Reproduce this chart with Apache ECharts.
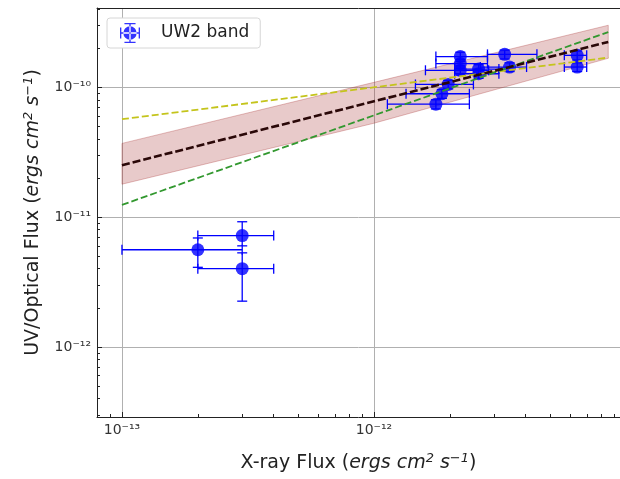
<!DOCTYPE html>
<html>
<head>
<meta charset="utf-8">
<script src="https://cdn.jsdelivr.net/npm/echarts@6/dist/echarts.min.js"></script>
<style>
  html, body { margin: 0; padding: 0; background: #fff; }
  #main { width: 620px; height: 479px; }
</style>
</head>
<body>
<div id="main"></div>
<script>
// UW2 band points (flux units), x errors and y errors as lower/upper bounds
const xVal = [1.76e-12, 1.86e-12, 1.97e-12, 2.2e-12, 2.2e-12, 2.2e-12, 2.6e-12, 2.6e-12, 3.3e-12, 3.45e-12, 6.4e-12, 6.4e-12, 3.0e-13, 2.0e-13, 3.0e-13]
const xLo = [1.13e-12, 1.34e-12, 1.46e-12, 1.76e-12, 1.76e-12, 1.60e-12, 2.09e-12, 2.09e-12, 2.82e-12, 2.64e-12, 5.69e-12, 5.69e-12, 2.0e-13, 1.0e-13, 2.0e-13]
const xHi = [2.39e-12, 2.39e-12, 2.48e-12, 2.82e-12, 2.82e-12, 2.85e-12, 3.13e-12, 3.13e-12, 4.43e-12, 4.03e-12, 6.98e-12, 6.98e-12, 4.0e-13, 3.0e-13, 4.0e-13]
const yVal = [7.4e-11, 8.9e-11, 1.05e-10, 1.72e-10, 1.52e-10, 1.35e-10, 1.38e-10, 1.27e-10, 1.79e-10, 1.43e-10, 1.76e-10, 1.43e-10, 7.2e-12, 5.6e-12, 4.0e-12]
const yLo = [6.8e-11, 8.2e-11, 9.7e-11, 1.58e-10, 1.40e-10, 1.24e-10, 1.27e-10, 1.17e-10, 1.65e-10, 1.32e-10, 1.62e-10, 1.32e-10, 6.0e-12, 4.1e-12, 2.25e-12]
const yHi = [8.0e-11, 9.6e-11, 1.13e-10, 1.86e-10, 1.64e-10, 1.46e-10, 1.49e-10, 1.37e-10, 1.93e-10, 1.54e-10, 1.90e-10, 1.54e-10, 9.2e-12, 6.9e-12, 5.3e-12]

// fitted power laws (end points) and confidence band
const fitX = [1e-13, 8.5e-12]
const fitBlack = [2.51e-11, 2.23e-10]
const fitYellow = [5.67e-11, 1.69e-10]
const fitGreen = [1.24e-11, 2.66e-10]
const bandX = [1e-13, 1e-12, 8.5e-12]
const bandLo = [1.79e-11, 5.28e-11, 1.67e-10]
const bandHi = [3.69e-11, 1.09e-10, 3.0e-10]

// tick positions (exponents)
const xMajor = [-13, -12]
const yMajor = [-12, -11, -10]
const minorMult = [2, 3, 4, 5, 6, 7, 8, 9]

const lg = Math.log10
const font = 'DejaVu Sans'
const xMin = -13.099, xMax = -11.024
const yMin = -12.54, yMax = -9.39
const chart = echarts.init(document.getElementById('main'))

function minors(decades) {
  const out = []
  decades.forEach(function(d) {
    minorMult.forEach(function(m) { out.push(lg(m) + d) })
  })
  return out
}

const supMap = {'-': '\u207b', '0': '\u2070', '1': '\u00b9', '2': '\u00b2', '3': '\u00b3', '4': '\u2074', '5': '\u2075', '6': '\u2076', '7': '\u2077', '8': '\u2078', '9': '\u2079'}
function powLabel(v) {
  const e = String(Math.round(v))
  return '10' + e.split('').map(function(c) { return supMap[c] }).join('')
}

const pts = xVal.map(function(x, i) {
  return [lg(x), lg(yVal[i]), lg(xLo[i]), lg(xHi[i]), lg(yLo[i]), lg(yHi[i])]
})

function line(ys, color, width, dash) {
  return {
    type: 'line',
    data: fitX.map(function(x, i) { return [lg(x), lg(ys[i])] }),
    symbol: 'none',
    silent: true,
    lineStyle: {color: color, width: width, type: dash}
  }
}

const nameRich = {
  n: {fontFamily: font, fontSize: 19, color: '#222'},
  i: {fontFamily: font, fontSize: 19, color: '#222', fontStyle: 'italic'},
  s: {fontFamily: font, fontSize: 13, color: '#222', fontStyle: 'italic', verticalAlign: 'top', padding: [0, 0, 9, 0]}
}

const errIcon = 'path://M1 9.4H19V10.6H1Z M1 5H2.2V15H1Z M17.8 5H19V15H17.8Z M9.4 1H10.6V19H9.4Z M5 1H15V2.2H5Z M5 17.8H15V19H5Z M4 10A6 6 0 1 0 16 10A6 6 0 1 0 4 10Z'
const frame = {show: true, onZero: false, lineStyle: {color: '#222', width: 1}}

const option = {
  animation: false,
  grid: {left: 97, top: 8, width: 523, height: 409},
  legend: {
    data: [{name: 'UW2 band', icon: errIcon}],
    left: 107, top: 18,
    itemWidth: 20, itemHeight: 20,
    padding: [5, 11, 5, 13],
    borderColor: '#d6d6d6', borderWidth: 1, borderRadius: 3,
    backgroundColor: '#fff',
    textStyle: {fontFamily: font, fontSize: 17, color: '#222', padding: [0, 0, 0, 16]}
  },
  xAxis: [{
    type: 'value', min: xMin, max: xMax,
    position: 'bottom',
    name: '{n|X-ray Flux (}{i|ergs cm}{s|2}{i| s}{s|\u22121}{n|)}',
    nameLocation: 'middle', nameGap: 35,
    nameTextStyle: {rich: nameRich},
    axisLine: frame,
    axisTick: {inside: true, length: 5, customValues: xMajor, lineStyle: {color: '#222'}},
    axisLabel: {customValues: xMajor, formatter: powLabel, margin: 6, fontFamily: font, fontSize: 14, color: '#333'},
    splitLine: {show: true, lineStyle: {color: '#b0b0b0', width: 1}}
  }, {
    type: 'value', min: xMin, max: xMax,
    position: 'bottom',
    axisLine: {show: false, onZero: false},
    axisTick: {inside: true, length: 3, customValues: minors([-14, -13, -12]), lineStyle: {color: '#222'}},
    axisLabel: {show: false},
    splitLine: {show: false}
  }, {
    type: 'value', min: xMin, max: xMax,
    position: 'top',
    axisLine: frame,
    axisTick: {show: false},
    axisLabel: {show: false},
    splitLine: {show: false}
  }],
  yAxis: [{
    type: 'value', min: yMin, max: yMax,
    position: 'left',
    name: '{n|UV/Optical Flux (}{i|ergs cm}{s|2}{i| s}{s|\u22121}{n|)}',
    nameLocation: 'middle', nameGap: 53, nameRotate: 90,
    nameTextStyle: {rich: nameRich},
    axisLine: frame,
    axisTick: {inside: true, length: 5, customValues: yMajor, lineStyle: {color: '#222'}},
    axisLabel: {customValues: yMajor, formatter: powLabel, margin: 6, fontFamily: font, fontSize: 14, color: '#333'},
    splitLine: {show: true, lineStyle: {color: '#b0b0b0', width: 1}}
  }, {
    type: 'value', min: yMin, max: yMax,
    position: 'left',
    axisLine: {show: false, onZero: false},
    axisTick: {inside: true, length: 3, customValues: minors([-13, -12, -11, -10]), lineStyle: {color: '#222'}},
    axisLabel: {show: false},
    splitLine: {show: false}
  }],
  series: [
    {
      type: 'custom',
      silent: true,
      data: bandX.map(function(x, i) { return [lg(x), lg(bandLo[i]), lg(bandHi[i])] }),
      encode: {x: 0, y: [1, 2]},
      renderItem: function(params, api) {
        if (params.dataIndex !== 0) return
        const upper = bandX.map(function(x, i) { return api.coord([lg(x), lg(bandHi[i])]) })
        const lower = bandX.map(function(x, i) { return api.coord([lg(x), lg(bandLo[i])]) }).reverse()
        return {
          type: 'polygon',
          shape: {points: upper.concat(lower)},
          style: {fill: 'rgba(165,42,42,0.25)', stroke: 'rgba(165,42,42,0.3)', lineWidth: 1}
        }
      }
    },
    line(fitYellow, '#c4c41c', 1.8, [7, 3]),
    line(fitGreen, '#32982f', 1.8, [7, 3]),
    line(fitBlack, '#2a0808', 2.6, [8, 3]),
    {
      type: 'custom',
      silent: true,
      data: pts,
      encode: {x: [0, 2, 3], y: [1, 4, 5]},
      renderItem: function(params, api) {
        const c = api.coord([api.value(0), api.value(1)])
        const l = api.coord([api.value(2), api.value(1)])
        const r = api.coord([api.value(3), api.value(1)])
        const b = api.coord([api.value(0), api.value(4)])
        const t = api.coord([api.value(0), api.value(5)])
        const cap = 5
        const st = {stroke: '#0000ff', lineWidth: 1.3}
        return {
          type: 'group',
          children: [
            {type: 'line', shape: {x1: l[0], y1: c[1], x2: r[0], y2: c[1]}, style: st},
            {type: 'line', shape: {x1: l[0], y1: c[1] - cap, x2: l[0], y2: c[1] + cap}, style: st},
            {type: 'line', shape: {x1: r[0], y1: c[1] - cap, x2: r[0], y2: c[1] + cap}, style: st},
            {type: 'line', shape: {x1: c[0], y1: b[1], x2: c[0], y2: t[1]}, style: st},
            {type: 'line', shape: {x1: c[0] - cap, y1: b[1], x2: c[0] + cap, y2: b[1]}, style: st},
            {type: 'line', shape: {x1: c[0] - cap, y1: t[1], x2: c[0] + cap, y2: t[1]}, style: st}
          ]
        }
      }
    },
    {
      name: 'UW2 band',
      type: 'scatter',
      data: pts.map(function(p) { return [p[0], p[1]] }),
      symbol: 'circle',
      symbolSize: 13,
      itemStyle: {color: '#0000ff'}
    }
  ]
}

chart.setOption(option)
</script>
</body>
</html>
